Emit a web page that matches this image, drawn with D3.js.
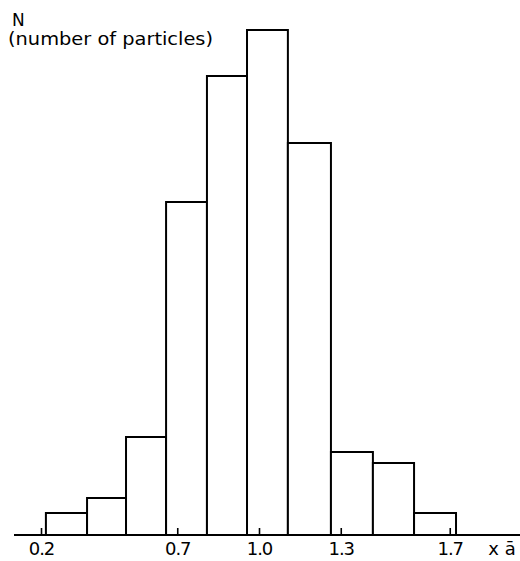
<!DOCTYPE html>
<html>
<head>
<meta charset="utf-8">
<script src="https://cdn.jsdelivr.net/npm/d3@7/dist/d3.min.js"></script>
<style>
  html, body { margin: 0; padding: 0; background: #fff; }
  svg { display: block; }
  text { font-family: "DejaVu Sans", sans-serif; fill: #000; }
</style>
</head>
<body>
<svg id="chart" width="520" height="561"></svg>
<script>
// Bin edges (in units of mean size ā) and particle counts per bin
const binEdges = [0.218, 0.369, 0.512, 0.659, 0.809, 0.956, 1.106, 1.264, 1.418, 1.569, 1.723];
const counts   = [4.4, 7.4, 19.6, 66.6, 91.8, 101, 78.4, 16.6, 14.4, 4.4];
const tickValues = [0.2, 0.7, 1.0, 1.3, 1.7];
const tickLabels = ["0.2", "0.7", "1.0", "1.3", "1.7"];
const yTitle = ["N", "(number of particles)"];
const xUnit = "x ā";

const svg = d3.select("#chart");

const x = d3.scaleLinear().domain([0.2, 1.7]).range([41, 449.75]);
const y = d3.scaleLinear().domain([0, 101]).range([535, 30]);

const bins = counts.map((c, i) => ({ x0: binEdges[i], x1: binEdges[i + 1], n: c }));

// baseline
svg.append("line")
  .attr("x1", 14).attr("x2", 520)
  .attr("y1", y(0)).attr("y2", y(0))
  .attr("stroke", "#000").attr("stroke-width", 2);

// bars
svg.append("g").selectAll("rect")
  .data(bins)
  .join("rect")
  .attr("x", d => x(d.x0))
  .attr("width", d => x(d.x1) - x(d.x0))
  .attr("y", d => y(d.n))
  .attr("height", d => y(0) - y(d.n))
  .attr("fill", "#fff")
  .attr("stroke", "#000")
  .attr("stroke-width", 2);

// x axis ticks (short upward marks) and labels
const axis = d3.axisBottom(x)
  .tickValues(tickValues)
  .tickFormat((d, i) => tickLabels[i])
  .tickSizeInner(-7)
  .tickSizeOuter(0)
  .tickPadding(0);

const gAxis = svg.append("g")
  .attr("transform", `translate(0,${y(0)})`)
  .call(axis)
  .attr("font-size", 18)
  .attr("font-family", "DejaVu Sans, sans-serif");
gAxis.select(".domain").remove();
gAxis.selectAll(".tick line").attr("stroke", "#000").attr("stroke-width", 1.6);
gAxis.selectAll(".tick text")
  .attr("y", 20)
  .attr("dy", 0)
  .style("font-size", "18px")
  .style("letter-spacing", "-1px")
  .attr("fill", "#000");

// unit label
svg.append("text")
  .attr("x", 502).attr("y", 555)
  .attr("text-anchor", "middle")
  .style("font-size", "18px")
  .text(xUnit);

// y title
svg.append("text")
  .attr("x", 12).attr("y", 26)
  .style("font-size", "17px")
  .text(yTitle[0]);
svg.append("text")
  .attr("x", 8).attr("y", 45)
  .attr("textLength", 205)
  .attr("lengthAdjust", "spacingAndGlyphs")
  .style("font-size", "17px")
  .text(yTitle[1]);
</script>
</body>
</html>
